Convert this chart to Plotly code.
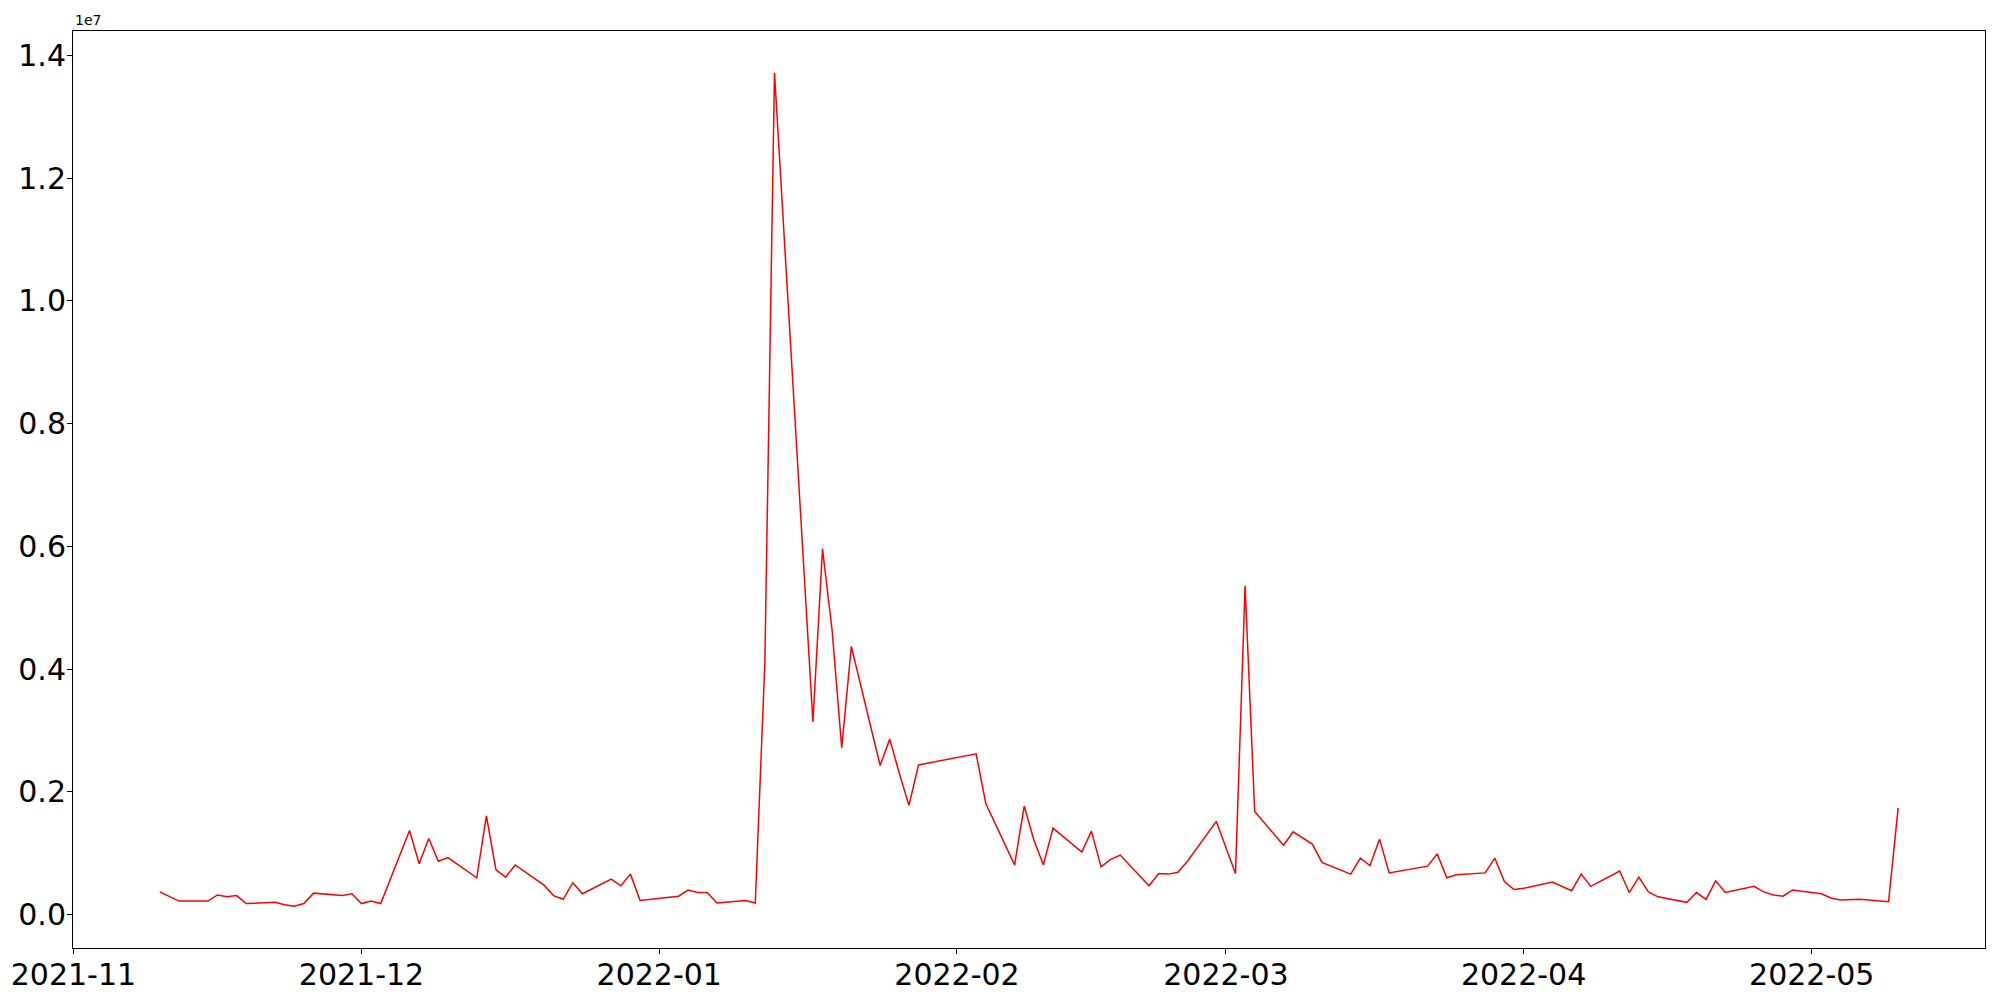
import plotly.graph_objects as go

# trading dates and daily volume (raw units, axis shown in 1e7)
dates = [
    "2021-11-10", "2021-11-12", "2021-11-15", "2021-11-16", "2021-11-17", "2021-11-18", "2021-11-19",
    "2021-11-22", "2021-11-23", "2021-11-24", "2021-11-25", "2021-11-26", "2021-11-29", "2021-11-30",
    "2021-12-01", "2021-12-02", "2021-12-03", "2021-12-06", "2021-12-07", "2021-12-08", "2021-12-09",
    "2021-12-10", "2021-12-13", "2021-12-14", "2021-12-15", "2021-12-16", "2021-12-17", "2021-12-20",
    "2021-12-21", "2021-12-22", "2021-12-23", "2021-12-24", "2021-12-27", "2021-12-28", "2021-12-29",
    "2021-12-30", "2022-01-03", "2022-01-04", "2022-01-05", "2022-01-06", "2022-01-07", "2022-01-10",
    "2022-01-11", "2022-01-12", "2022-01-13", "2022-01-17", "2022-01-18", "2022-01-19", "2022-01-20",
    "2022-01-21", "2022-01-24", "2022-01-25", "2022-01-26", "2022-01-27", "2022-01-28", "2022-02-03",
    "2022-02-04", "2022-02-07", "2022-02-08", "2022-02-09", "2022-02-10", "2022-02-11", "2022-02-14",
    "2022-02-15", "2022-02-16", "2022-02-17", "2022-02-18", "2022-02-21", "2022-02-22", "2022-02-23",
    "2022-02-24", "2022-02-25", "2022-02-28", "2022-03-02", "2022-03-03", "2022-03-04", "2022-03-07",
    "2022-03-08", "2022-03-10", "2022-03-11", "2022-03-14", "2022-03-15", "2022-03-16", "2022-03-17",
    "2022-03-18", "2022-03-22", "2022-03-23", "2022-03-24", "2022-03-25", "2022-03-28", "2022-03-29",
    "2022-03-30", "2022-03-31", "2022-04-01", "2022-04-04", "2022-04-06", "2022-04-07", "2022-04-08",
    "2022-04-11", "2022-04-12", "2022-04-13", "2022-04-14", "2022-04-15", "2022-04-18", "2022-04-19",
    "2022-04-20", "2022-04-21", "2022-04-22", "2022-04-25", "2022-04-26", "2022-04-27", "2022-04-28",
    "2022-04-29", "2022-05-02", "2022-05-03", "2022-05-04", "2022-05-06", "2022-05-09", "2022-05-10",
]
volume = [
    370000, 220000, 220000, 320000, 290000, 310000, 180000,
    200000, 160000, 135000, 180000, 350000, 310000, 340000,
    180000, 220000, 180000, 1370000, 830000, 1240000, 870000,
    930000, 600000, 1610000, 730000, 610000, 810000, 480000,
    310000, 250000, 520000, 340000, 580000, 470000, 660000,
    230000, 300000, 400000, 360000, 360000, 190000, 230000,
    190000, 4120000, 13720000, 3140000, 5960000, 4630000, 2720000,
    4370000, 2430000, 2860000, 2300000, 1780000, 2440000, 2620000,
    1810000, 810000, 1770000, 1220000, 810000, 1410000, 1020000,
    1360000, 780000, 900000, 970000, 470000, 670000, 660000,
    690000, 870000, 1520000, 670000, 5360000, 1680000, 1130000,
    1350000, 1150000, 850000, 660000, 920000, 800000, 1230000,
    680000, 790000, 990000, 600000, 650000, 680000, 920000,
    540000, 410000, 430000, 530000, 390000, 660000, 460000,
    710000, 360000, 610000, 370000, 290000, 200000, 360000,
    250000, 550000, 360000, 460000, 370000, 320000, 300000,
    400000, 340000, 270000, 240000, 250000, 210000, 1740000,
]

y_ticks = [0, 2e6, 4e6, 6e6, 8e6, 1e7, 1.2e7, 1.4e7]
y_labels = ["0.0", "0.2", "0.4", "0.6", "0.8", "1.0", "1.2", "1.4"]

FONT = "DejaVu Sans"

fig = go.Figure()
fig.add_trace(go.Scatter(
    x=dates,
    y=volume,
    mode="lines",
    line=dict(color="#ff0000", width=1.5),
    showlegend=False
))

axis_style = dict(
    showline=True, linecolor="black", linewidth=1, mirror=True,
    showgrid=False, zeroline=False, automargin=False,
    ticks="outside", ticklen=5, tickwidth=1, tickcolor="black",
    tickfont=dict(family=FONT, size=30, color="black"),
)

fig.update_xaxes(
    type="date",
    range=["2021-10-31 23:00", "2022-05-19 01:00"],
    tick0="2021-11-01", dtick="M1", tickformat="%Y-%m",
    ticklabelstandoff=-5,
    **axis_style
)
fig.update_yaxes(
    range=[-544000, 14400000],
    tickvals=y_ticks, ticktext=y_labels,
    ticklabelstandoff=-5,
    **axis_style
)

# offset text of the y axis
fig.add_annotation(
    text="1e7", xref="paper", yref="paper", x=0, y=1,
    xanchor="left", yanchor="bottom", showarrow=False, yshift=1,
    font=dict(family=FONT, size=14, color="black")
)

# page body keeps its 8px margin, so the figure is sized to sit inside the window
fig.update_layout(
    width=1984, height=984,
    margin=dict(l=65, r=7, t=23, b=44),
    plot_bgcolor="white", paper_bgcolor="white",
    font=dict(family=FONT, color="black")
)

fig.write_html("out.html", config={"displayModeBar": False})
